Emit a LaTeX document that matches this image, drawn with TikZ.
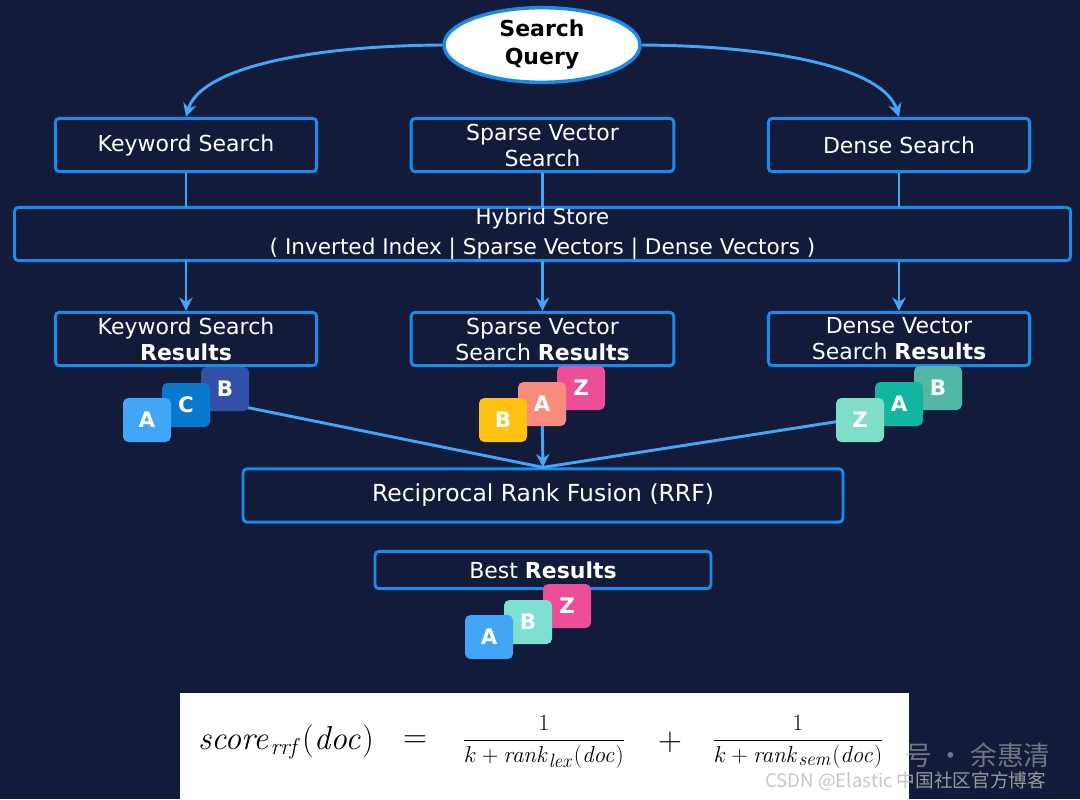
\documentclass[tikz,border=0pt]{standalone}
\usepackage[no-math]{fontspec}
\setmainfont{DejaVu Sans}
\newfontfamily\cjk{Noto Sans CJK SC}
\usetikzlibrary{arrows.meta,shapes.geometric}
\definecolor{bg}{RGB}{18,27,58}
\definecolor{bord}{RGB}{26,139,234}
\definecolor{conn}{RGB}{66,165,245}
\definecolor{cA}{RGB}{66,165,245}
\definecolor{cC}{RGB}{8,121,205}
\definecolor{cB}{RGB}{50,80,168}
\definecolor{sB}{RGB}{255,193,20}
\definecolor{sA}{RGB}{247,140,124}
\definecolor{sZ}{RGB}{236,79,152}
\definecolor{dZ}{RGB}{128,222,200}
\definecolor{dA}{RGB}{18,181,160}
\definecolor{dB}{RGB}{82,183,165}
\definecolor{bB}{RGB}{126,224,210}
\tikzset{
  box/.style={draw=bord, line width=2.2pt, rounded corners=3pt, text=white, align=center, inner sep=0pt},
  card/.style={minimum width=36pt, minimum height=33pt, rounded corners=4pt, text=white, font=\bfseries\fontsize{16}{16}\selectfont, inner sep=0pt},
  conline/.style={draw=conn, line width=2.2pt},
  arr/.style={conline, -{Stealth[length=10pt,width=10pt]}},
  bfont/.style={font=\fontsize{16.5}{19.5}\selectfont}
}
\begin{document}
\begin{tikzpicture}[x=0.75pt,y=-0.75pt]
\fill[bg] (0,0) rectangle (1080,799);
\useasboundingbox (0,0) rectangle (1080,799);

% query
\node[ellipse, draw=bord, fill=white, line width=2.6pt, minimum width=147pt, minimum height=56pt, inner sep=0pt, align=center, font=\bfseries\fontsize{16.5}{21}\selectfont, text=black] (q) at (542,45) {Search\\Query};

% top boxes
\node[box, bfont, minimum width=196pt, minimum height=40pt] (k1) at (186,145) {Keyword Search};
\node[box, bfont, minimum width=197pt, minimum height=40pt] (s1) at (542.5,145) {Sparse Vector\\Search};
\node[box, bfont, minimum width=196pt, minimum height=40pt] (d1) at (899,145) {Dense Search};

\draw[arr] (q.west) .. controls (300,46) and (200,70) .. (k1.north);
\draw[arr] (q.east) .. controls (784,46) and (884,70) .. (d1.north);

% hybrid store
\node[box, minimum width=792pt, minimum height=40pt] (hs) at (542.5,234) {};
\node[text=white, font=\fontsize{16}{19}\selectfont] (hst) at (542.5,219) {Hybrid Store};
\node[text=white, font=\fontsize{16.2}{19}\selectfont] (hsb) at (542.5,249) {( Inverted Index | Sparse Vectors | Dense Vectors )};

\coordinate (hk) at (186,207);
\coordinate (hsn) at (542.5,207);
\coordinate (hd) at (899,207);
\coordinate (hk2) at (186,261);
\coordinate (hs2) at (542.5,261);
\coordinate (hd2) at (899,261);
\draw[conline] (k1.south) -- (hk);
\draw[conline] (s1.south) -- (hsn);
\draw[conline] (d1.south) -- (hd);

% result boxes
\node[box, bfont, minimum width=196pt, minimum height=40pt] (k2) at (186,339) {Keyword Search\\\textbf{Results}};
\node[box, bfont, minimum width=197pt, minimum height=40pt] (s2) at (542.5,339) {Sparse Vector\\Search \textbf{Results}};
\node[box, bfont, minimum width=196pt, minimum height=40pt] (d2) at (899,339) {Dense Vector\\Search \textbf{Results}};

\draw[arr] (hk2) -- (k2.north);
\draw[arr] (hs2) -- (s2.north);
\draw[arr] (hd2) -- (d2.north);

% RRF
\node[box, font=\fontsize{17.6}{20}\selectfont, minimum width=450pt, minimum height=40pt] (rrf) at (543,495.5) {Reciprocal Rank Fusion (RRF)};

% connectors to rrf (under cards)
\coordinate (kstart) at (225,403);
\coordinate (sstart) at (542,410);
\coordinate (dstart) at (860,418);
\draw[conline] (kstart) -- (rrf.north);
\draw[conline] (dstart) -- (rrf.north);
\draw[arr] (sstart) -- (rrf.north);

% keyword cards
\node[card, fill=cB] (kB) at (225,389) {B};
\node[card, fill=cC] (kC) at (186,405) {C};
\node[card, fill=cA] (kA) at (147,420) {A};
% sparse cards
\node[card, fill=sZ] (sZc) at (581,388) {Z};
\node[card, fill=sA] (sAc) at (542,404) {A};
\node[card, fill=sB] (sBc) at (503,420) {B};
% dense cards
\node[card, fill=dB] (dBc) at (938,388) {B};
\node[card, fill=dA] (dAc) at (899,404) {A};
\node[card, fill=dZ] (dZc) at (860,420) {Z};

% best results
\node[box, font=\fontsize{16.5}{19}\selectfont, minimum width=252pt, minimum height=28pt] (best) at (543,570) {Best \textbf{Results}};
\node[card, fill=sZ] (bZ) at (567,606) {Z};
\node[card, fill=bB] (bBc) at (528,622) {B};
\node[card, fill=cA] (bA) at (489,637) {A};

% formula box
\fill[white] (180,693) rectangle (909,799);
\node[anchor=center, inner sep=0pt, font=\fontsize{27}{28}\selectfont] (fl) at (286,742) {$\mathit{score}_{\mathit{rrf}}(\mathit{doc})$};
\node[inner sep=0pt, font=\fontsize{26}{28}\selectfont] (feq) at (415,742) {$=$};
\node[inner sep=0pt, font=\fontsize{19}{22}\selectfont] (f1) at (544,742) {$\displaystyle\frac{1}{k+\mathit{rank}_{\mathit{lex}}(\mathit{doc})}$};
\node[inner sep=0pt, font=\fontsize{26}{28}\selectfont] (fplus) at (670,742) {$+$};
\node[inner sep=0pt, font=\fontsize{19}{22}\selectfont] (f2) at (798,742) {$\displaystyle\frac{1}{k+\mathit{rank}_{\mathit{sem}}(\mathit{doc})}$};

% watermark
\node[anchor=west, inner sep=0pt, text=gray!60!white, opacity=0.6, font=\cjk\fontsize{20}{22}\selectfont] (wm1) at (905,755) {号 · 余惠清};
\node[anchor=west, inner sep=0pt, text=gray!55!white, opacity=0.8, font=\cjk\fontsize{14}{16}\selectfont] (wm2) at (765,781) {CSDN @Elastic 中国社区官方博客};
\end{tikzpicture}
\end{document}
